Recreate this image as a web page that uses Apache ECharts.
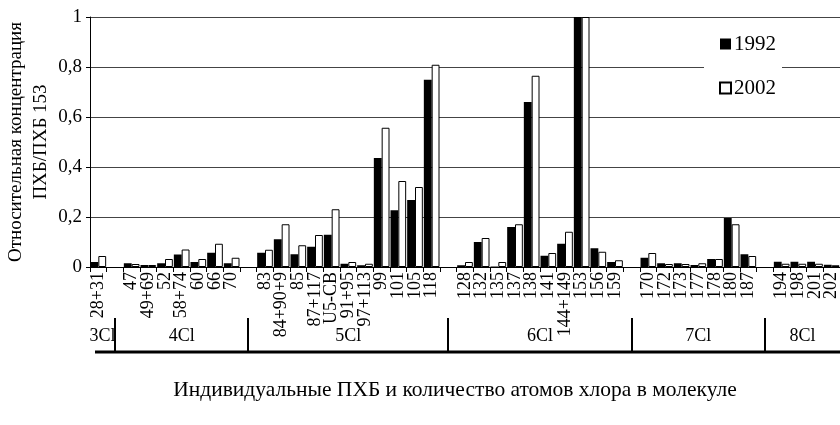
<!DOCTYPE html>
<html>
<head>
<meta charset="utf-8">
<script src="https://cdn.jsdelivr.net/npm/echarts@6/dist/echarts.min.js"></script>
<style>html,body{margin:0;padding:0;background:#fff}#c{width:840px;height:425px}</style>
</head>
<body>
<div id="c"></div>
<script>
const categories = ['28+31','', '47','49+69','52','58+74','60','66','70','',
  '83','84+90+9','85','87+117','U5-CB','91+95','97+113','99','101','105','118','',
  '128','132','135','137','138','141','144+149','153','156','159','',
  '170','172','173','177','178','180','187','',
  '194','198','201','202'];
const v1992 = [0.02,null, 0.015,0.008,0.015,0.05,0.02,0.057,0.015,null,
  0.057,0.111,0.051,0.081,0.129,0.013,0.007,0.436,0.227,0.268,0.749,null,
  0.007,0.1,0.002,0.16,0.66,0.045,0.093,1.0,0.075,0.02,null,
  0.037,0.015,0.015,0.008,0.032,0.196,0.051,null,
  0.021,0.021,0.021,0.009];
const v2002 = [0.044,null, 0.012,0.008,0.032,0.07,0.032,0.093,0.037,null,
  0.069,0.171,0.087,0.128,0.231,0.02,0.013,0.557,0.344,0.32,0.809,null,
  0.02,0.116,0.02,0.171,0.765,0.056,0.141,1.0,0.061,0.027,null,
  0.056,0.012,0.012,0.015,0.032,0.171,0.044,null,
  0.013,0.013,0.013,0.007];
const groupNames = ['3Cl','4Cl','5Cl','6Cl','7Cl','8Cl'];
const seriesNames = ['1992','2002'];

const FONT = 'Liberation Serif';
const chart = echarts.init(document.getElementById('c'));
const GL = 90, GT = 17, GB = 158;
chart.setOption({
  animation:false,
  backgroundColor:'#fff',
  textStyle:{fontFamily:FONT,color:'#000'},
  grid:{left:GL,right:0,top:GT,bottom:GB,containLabel:false,outerBoundsMode:'none'},
  legend:{
    data:seriesNames, orient:'vertical', left:704, top:27,
    itemWidth:11, itemHeight:11, itemGap:22,
    backgroundColor:'#fff', padding:[6,6,6,15],
    textStyle:{fontFamily:FONT,fontSize:21,lineHeight:22,color:'#000',padding:[0,0,0,-2]},
    icon:'rect'
  },
  xAxis:{
    type:'category', data:categories, boundaryGap:true,
    axisLine:{lineStyle:{color:'#000',width:1}},
    axisTick:{show:true,interval:0,length:5,lineStyle:{color:'#000'}},
    axisLabel:{interval:0,rotate:90,fontFamily:FONT,fontSize:18,color:'#000',margin:5}
  },
  yAxis:{
    type:'value', min:0, max:1, interval:0.2,
    name:'Относительная концентрация\nПХБ/ПХБ 153',
    nameLocation:'middle', nameGap:36, nameRotate:90, nameMoveOverlap:false,
    nameTextStyle:{fontFamily:FONT,fontSize:19,color:'#000',lineHeight:25},
    axisLine:{show:true,lineStyle:{color:'#000'}},
    axisTick:{show:true,length:4,lineStyle:{color:'#000'}},
    axisLabel:{fontFamily:FONT,fontSize:19,color:'#000',margin:8,
      formatter:v=>String(v).replace('.',',')},
    splitLine:{lineStyle:{color:'#444',width:1}}
  },
  series:[
    {name:seriesNames[0],type:'bar',data:v1992,barGap:'0%',barCategoryGap:'6%',
     itemStyle:{color:'#000'}},
    {name:seriesNames[1],type:'bar',data:v2002,barGap:'0%',barCategoryGap:'6%',
     itemStyle:{color:'#fff',borderColor:'#000',borderWidth:1}}
  ]
});

// Group dividers at blank categories
const px = i => chart.convertToPixel({xAxisIndex:0}, i);
const bw = px(1) - px(0);
const blanks = categories.map((c,i)=>c===''?i:-1).filter(i=>i>=0);
const bounds = [px(0)-bw/2].concat(blanks.map(i=>px(i))).concat([px(categories.length-1)+bw/2]);
const els = [];
const lineY = 352, topY = 318;
els.push({type:'line',shape:{x1:bounds[0]+5,y1:lineY,x2:840,y2:lineY},style:{stroke:'#000',lineWidth:3}});
blanks.forEach(i=>{
  const x = Math.round(px(i));
  els.push({type:'line',shape:{x1:x,y1:topY,x2:x,y2:lineY},style:{stroke:'#000',lineWidth:2}});
});
groupNames.forEach((g,k)=>{
  els.push({type:'text',x:(bounds[k]+bounds[k+1])/2,y:336,
    style:{text:g,font:'18px "Liberation Serif"',fill:'#000',align:'center',verticalAlign:'middle'}});
});
els.push({type:'text',x:455,y:390,style:{text:'Индивидуальные ПХБ и количество атомов хлора в молекуле',
  font:'21.5px "Liberation Serif"',fill:'#000',align:'center',verticalAlign:'middle'}});
chart.setOption({graphic:{elements:els}});
</script>
</body>
</html>
